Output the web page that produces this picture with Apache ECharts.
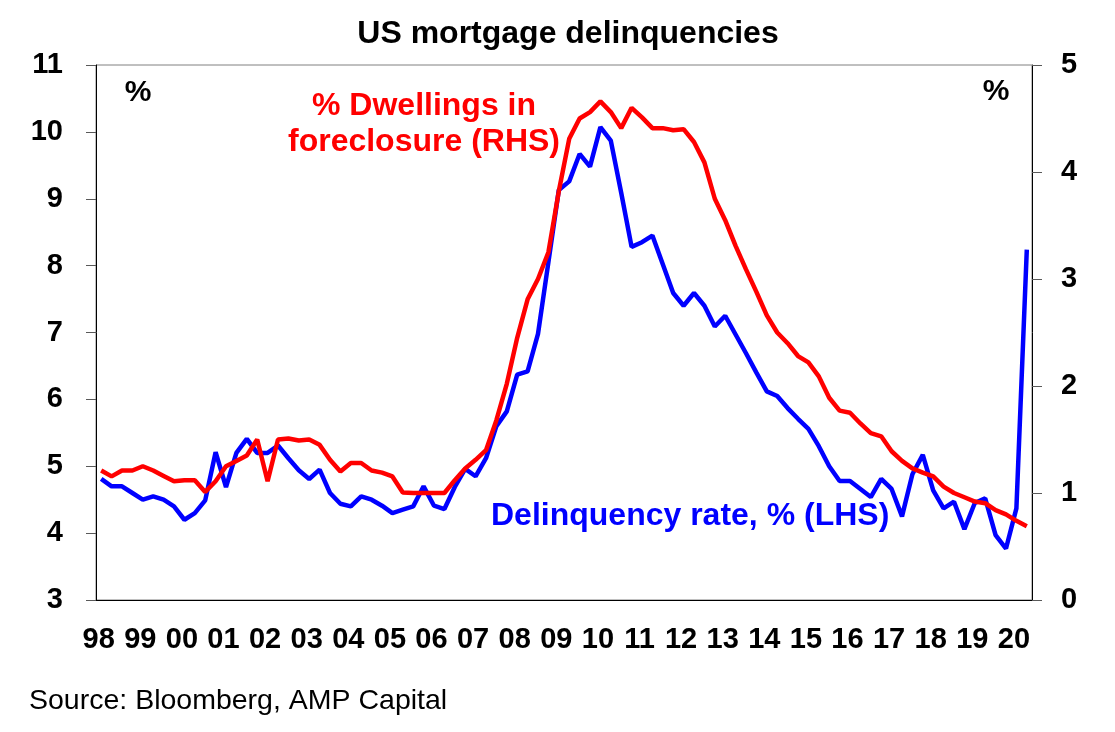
<!DOCTYPE html>
<html>
<head>
<meta charset="utf-8">
<title>US mortgage delinquencies</title>
<script src="https://cdn.jsdelivr.net/npm/echarts@6/dist/echarts.min.js"></script>
<style>
  html, body { margin: 0; padding: 0; background: #fff; }
  #main { width: 1115px; height: 732px; }
</style>
</head>
<body>
<div id="main"></div>
<script>
// year tick labels (one per year, quarterly data underneath)
var yearLabels = ['98', '99', '00', '01', '02', '03', '04', '05', '06', '07', '08',
  '09', '10', '11', '12', '13', '14', '15', '16', '17', '18', '19', '20'];

// delinquency rate, % (LHS), quarterly 1998Q1 - 2020Q2
var delinquency = [
  4.81, 4.70, 4.70, 4.60, 4.50, 4.55, 4.50, 4.40, 4.20, 4.30,
  4.49, 5.21, 4.69, 5.20, 5.41, 5.20, 5.20, 5.31, 5.12, 4.94,
  4.81, 4.95, 4.60, 4.44, 4.40, 4.55, 4.50, 4.41, 4.30, 4.35,
  4.40, 4.70, 4.41, 4.36, 4.69, 4.96, 4.85, 5.12, 5.60, 5.82,
  6.37, 6.42, 6.98, 8.05, 9.13, 9.26, 9.67, 9.48, 10.07, 9.87,
  9.09, 8.28, 8.35, 8.45, 8.02, 7.59, 7.40, 7.59, 7.40, 7.09,
  7.25, 6.97, 6.69, 6.40, 6.12, 6.05, 5.87, 5.71, 5.56, 5.30,
  5.00, 4.78, 4.78, 4.66, 4.54, 4.81, 4.66, 4.25, 4.88, 5.17,
  4.64, 4.37, 4.47, 4.06, 4.45, 4.52, 3.97, 3.77, 4.37, 8.24
];

// % dwellings in foreclosure (RHS)
var foreclosure = [
  1.21, 1.155, 1.21, 1.21, 1.25, 1.21, 1.16, 1.11, 1.12, 1.12,
  1.01, 1.11, 1.25, 1.30, 1.35, 1.50, 1.11, 1.50, 1.51, 1.49,
  1.50, 1.45, 1.31, 1.20, 1.28, 1.28, 1.21, 1.19, 1.155, 1.005,
  1.00, 1.00, 1.00, 1.00, 1.12, 1.23, 1.31, 1.40, 1.68, 2.02,
  2.45, 2.81, 3.00, 3.25, 3.82, 4.31, 4.50, 4.56, 4.66, 4.56,
  4.41, 4.60, 4.51, 4.41, 4.41, 4.39, 4.40, 4.28, 4.09, 3.75,
  3.55, 3.31, 3.09, 2.88, 2.66, 2.50, 2.40, 2.28, 2.22, 2.09,
  1.89, 1.77, 1.75, 1.65, 1.56, 1.53, 1.39, 1.30, 1.23, 1.19,
  1.155, 1.06, 1.00, 0.96, 0.92, 0.905, 0.84, 0.80, 0.74, 0.69
];

// quarter categories, e.g. '98Q1'
var quarters = [];
yearLabels.forEach(function (y) {
  for (var q = 1; q <= 4 && quarters.length < delinquency.length; q++) {
    quarters.push(y + 'Q' + q);
  }
});

var FONT = '"Liberation Sans", Arial, sans-serif';

var myChart = echarts.init(document.getElementById('main'), null, { renderer: 'canvas' });

myChart.setOption({
  animation: false,
  backgroundColor: '#fff',
  grid: {
    left: 96, right: 83, top: 65, bottom: 132,
    show: true, borderColor: '#808080', borderWidth: 1
  },
  xAxis: {
    type: 'category',
    data: quarters,
    boundaryGap: true,
    axisLine: { lineStyle: { color: '#000', width: 1 } },
    axisTick: { interval: 3, length: 10, lineStyle: { color: '#595959' } },
    axisLabel: {
      interval: 3,
      margin: 25,
      padding: [0, 5, 0, 0],
      color: '#000',
      fontFamily: FONT,
      fontWeight: 'bold',
      fontSize: 29,
      formatter: function (v) { return v.slice(0, 2); }
    },
    splitLine: { show: false }
  },
  yAxis: [
    {
      type: 'value',
      min: 3, max: 11, interval: 1,
      position: 'left',
      axisLine: { show: true, lineStyle: { color: '#000', width: 1 } },
      axisTick: { show: true, length: 10, lineStyle: { color: '#595959' } },
      axisLabel: {
        margin: 33, color: '#000', fontFamily: FONT,
        fontWeight: 'bold', fontSize: 29
      },
      splitLine: { show: false }
    },
    {
      type: 'value',
      min: 0, max: 5, interval: 1,
      position: 'right',
      axisLine: { show: true, lineStyle: { color: '#000', width: 1 } },
      axisTick: { show: true, length: 10, lineStyle: { color: '#595959' } },
      axisLabel: {
        margin: 29, color: '#000', fontFamily: FONT,
        fontWeight: 'bold', fontSize: 29
      },
      splitLine: { show: false }
    }
  ],
  series: [
    {
      name: 'Delinquency rate, % (LHS)',
      type: 'line',
      yAxisIndex: 0,
      data: delinquency,
      symbol: 'none',
      lineStyle: { color: '#0000ff', width: 4.5 },
      z: 2
    },
    {
      name: '% Dwellings in foreclosure (RHS)',
      type: 'line',
      yAxisIndex: 1,
      data: foreclosure,
      symbol: 'none',
      lineStyle: { color: '#ff0000', width: 4.5 },
      z: 3
    }
  ],
  graphic: [
    { type: 'text', x: 568, y: 34, style: { text: 'US mortgage delinquencies', fill: '#000',
      font: 'bold 32px ' + FONT, textAlign: 'center', textVerticalAlign: 'middle' } },
    { type: 'text', x: 138, y: 93, style: { text: '%', fill: '#000',
      font: 'bold 30px ' + FONT, textAlign: 'center', textVerticalAlign: 'middle' } },
    { type: 'text', x: 996, y: 92, style: { text: '%', fill: '#000',
      font: 'bold 30px ' + FONT, textAlign: 'center', textVerticalAlign: 'middle' } },
    { type: 'text', x: 424, y: 106, style: { text: '% Dwellings in', fill: '#ff0000',
      font: 'bold 32px ' + FONT, textAlign: 'center', textVerticalAlign: 'middle' } },
    { type: 'text', x: 424, y: 142, style: { text: 'foreclosure (RHS)', fill: '#ff0000',
      font: 'bold 32px ' + FONT, textAlign: 'center', textVerticalAlign: 'middle' } },
    { type: 'text', x: 491, y: 516, style: { text: 'Delinquency rate, % (LHS)', fill: '#0000ff',
      font: 'bold 32px ' + FONT, textAlign: 'left', textVerticalAlign: 'middle' } },
    { type: 'text', x: 29, y: 701, style: { text: 'Source: Bloomberg, AMP Capital', fill: '#000',
      font: '28.5px ' + FONT, textAlign: 'left', textVerticalAlign: 'middle' } }
  ]
});
</script>
</body>
</html>
